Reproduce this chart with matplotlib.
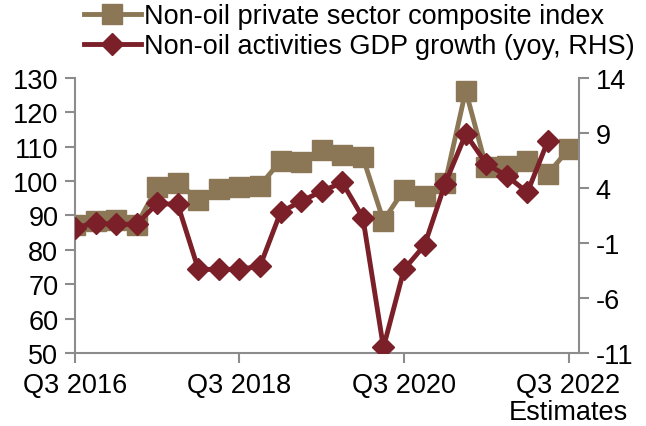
import numpy as np
import matplotlib.pyplot as plt

plt.rcParams['font.family'] = ['Liberation Sans', 'DejaVu Sans']
plt.rcParams['axes.unicode_minus'] = False

quarters = ['Q3 2016', 'Q4 2016', 'Q1 2017', 'Q2 2017', 'Q3 2017', 'Q4 2017',
            'Q1 2018', 'Q2 2018', 'Q3 2018', 'Q4 2018', 'Q1 2019', 'Q2 2019',
            'Q3 2019', 'Q4 2019', 'Q1 2020', 'Q2 2020', 'Q3 2020', 'Q4 2020',
            'Q1 2021', 'Q2 2021', 'Q3 2021', 'Q4 2021', 'Q1 2022', 'Q2 2022',
            'Q3 2022']
composite = [87.3, 88.5, 88.8, 87.3, 98.2, 99.4, 94.6, 97.7, 98.2, 98.7,
             105.9, 105.5, 109.1, 107.5, 106.9, 88.5, 97.5, 95.6, 99.5, 126.3,
             104.0, 104.3, 105.9, 102.1, 109.3]
gdp_growth = [0.4, 0.8, 0.7, 0.7, 2.6, 2.5, -3.4, -3.4, -3.4, -3.1,
              1.8, 2.8, 3.7, 4.5, 1.3, -10.5, -3.4, -1.2, 4.4, 8.9,
              6.2, 5.1, 3.6, 8.3]
tick_idx = [0, 8, 16, 24]
tick_labels = ['Q3 2016', 'Q3 2018', 'Q3 2020', 'Q3 2022\nEstimates']

tan = '#8b7755'
maroon = '#7b2028'
grey = '#8c8c8c'

fig = plt.figure(figsize=(6.46, 4.27), dpi=100)
ax = fig.add_axes([0.116, 0.171, 0.78, 0.644])
ax2 = ax.twinx()

x = np.arange(len(quarters))
l1, = ax.plot(x, composite, color=tan, lw=3.5, marker='s', ms=14,
              label='Non-oil private sector composite index')
l2, = ax2.plot(x[:len(gdp_growth)], gdp_growth, color=maroon, lw=3.5,
               marker='D', ms=11, label='Non-oil activities GDP growth (yoy, RHS)')

ax.set_xlim(0, 24.5)
ax.set_ylim(50, 130)
ax.set_yticks(range(50, 131, 10))
ax2.set_ylim(-11, 14)
ax2.set_yticks([-11, -6, -1, 4, 9, 14])
ax.set_xticks(tick_idx)
ax.set_xticklabels(tick_labels, linespacing=1.05)

for a in (ax, ax2):
    a.spines['top'].set_visible(False)
    for s in ('left', 'right', 'bottom'):
        a.spines[s].set_color(grey)
        a.spines[s].set_linewidth(1.5)
    a.tick_params(colors=grey, labelcolor='black', labelsize=19.5,
                  width=1.5, length=7, direction='out', pad=5)
ax.tick_params(axis='x', pad=7)
ax.spines['right'].set_visible(False)
ax2.spines['left'].set_visible(False)
ax2.spines['bottom'].set_visible(False)

fig.legend(handles=[l1, l2], loc='upper left', bbox_to_anchor=(0.13, 0.99),
           frameon=False, fontsize=19.5, handlelength=2.1, handletextpad=0.1,
           labelspacing=0.15, borderaxespad=0, borderpad=0)

fig.savefig('out.png', dpi=100)
